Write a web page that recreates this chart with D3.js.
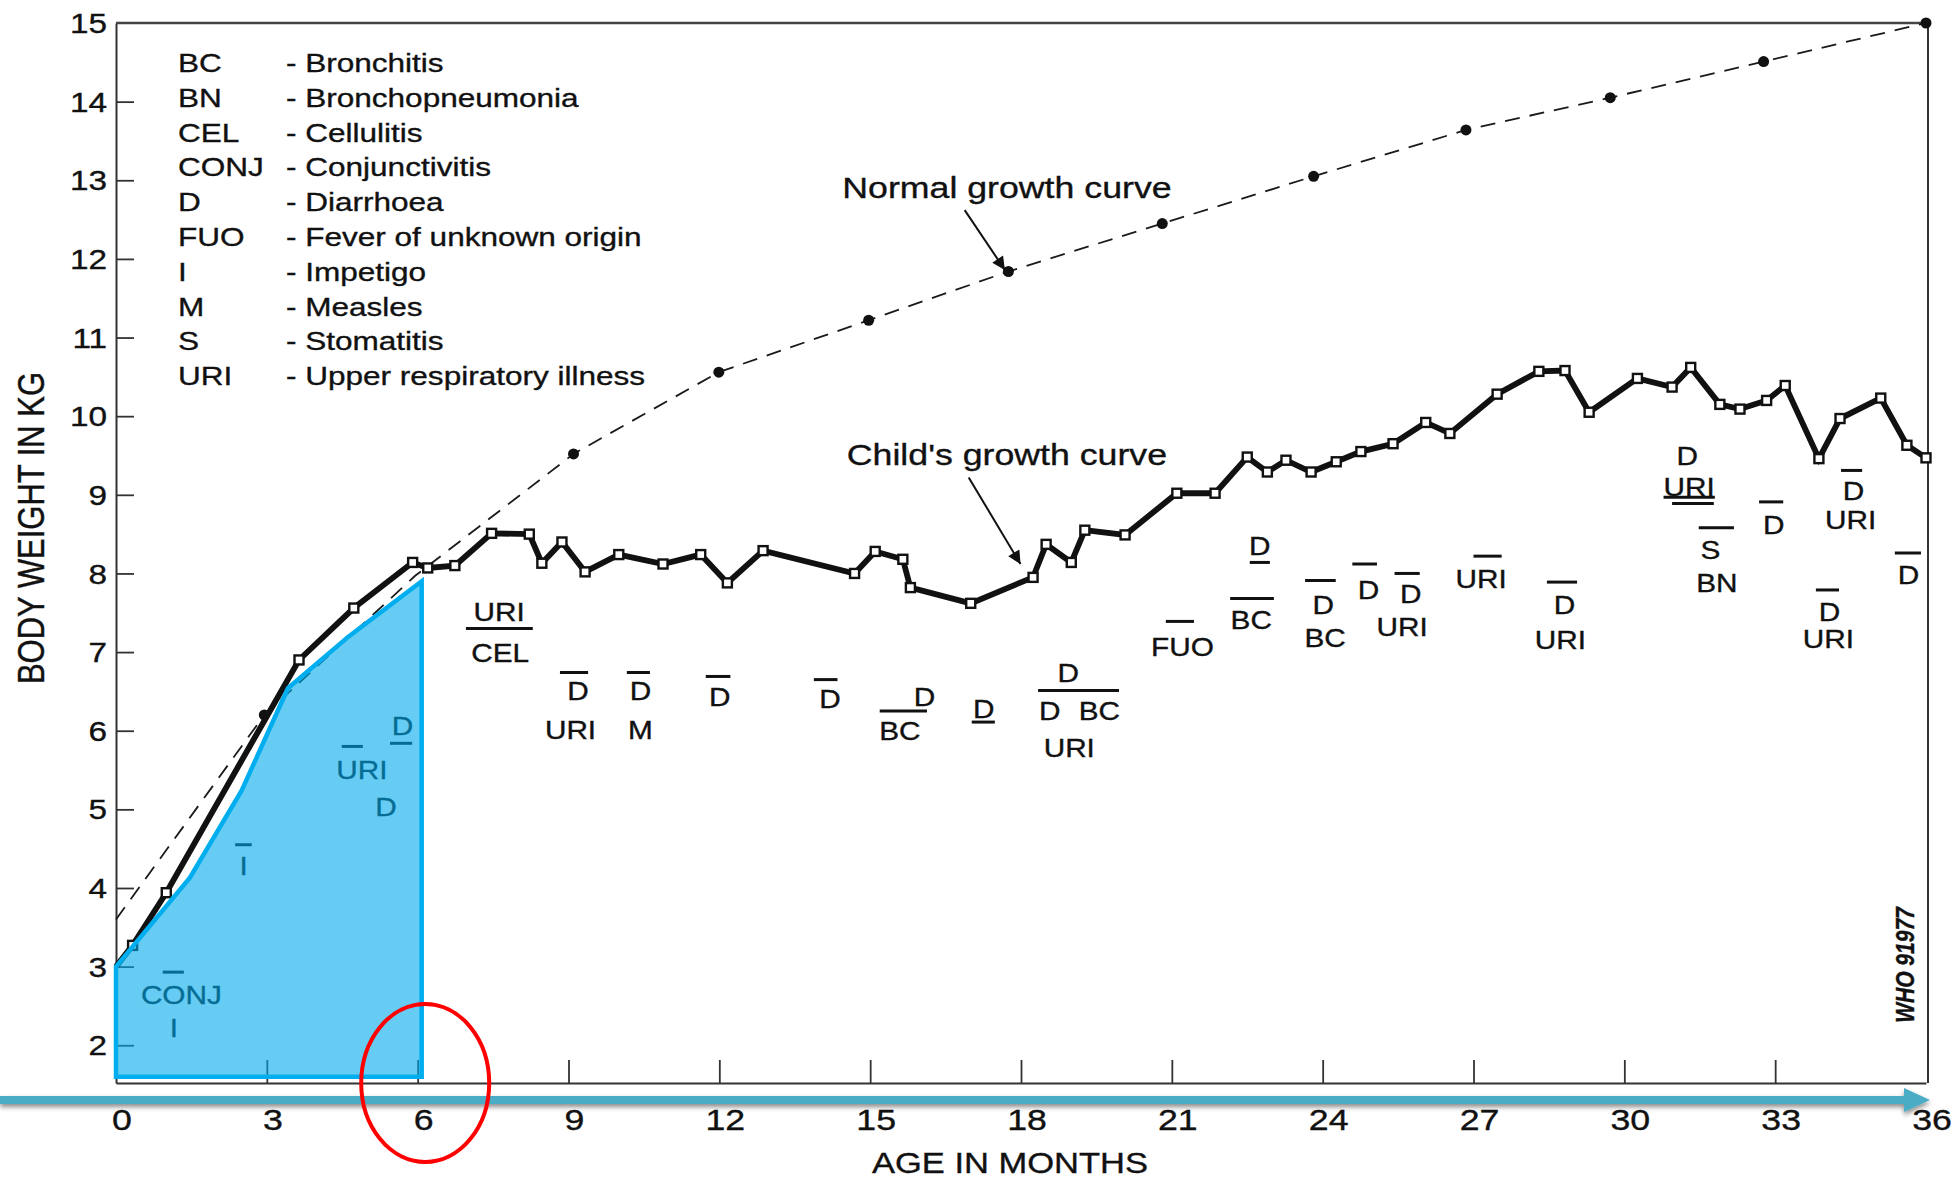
<!DOCTYPE html>
<html><head><meta charset="utf-8">
<script src="https://cdn.jsdelivr.net/npm/d3@7"></script>
<style>
body{margin:0;background:#fff;}
svg{display:block;}
text{font-family:"Liberation Sans",Arial,Helvetica,sans-serif;fill:#111;stroke:#111;stroke-width:0.35px;}
</style>
</head><body>
<svg id="chart" width="1959" height="1179"></svg>
<script>
// ---------------- DATA ----------------
const childAges = [0,0.33,1.0,3.64,4.73,5.9,6.2,6.74,7.47,8.22,8.47,8.87,9.33,10.0,10.88,11.63,12.16,12.87,14.69,15.1,15.65,15.8,17.0,18.24,18.5,19.0,19.27,20.07,21.1,21.86,22.5,22.9,23.27,23.77,24.27,24.76,25.4,26.05,26.53,27.47,28.3,28.82,29.3,30.26,30.95,31.32,31.9,32.3,32.83,33.2,33.87,34.29,35.1,35.62,36.0];
const childWeights = [3.0,3.27,3.94,6.9,7.56,8.14,8.07,8.1,8.51,8.5,8.13,8.4,8.02,8.24,8.12,8.24,7.88,8.29,8.0,8.28,8.18,7.82,7.62,7.95,8.37,8.14,8.55,8.49,9.02,9.02,9.48,9.29,9.44,9.29,9.42,9.55,9.65,9.92,9.78,10.28,10.57,10.58,10.05,10.48,10.37,10.62,10.15,10.09,10.2,10.39,9.46,9.97,10.23,9.63,9.47];

// normal curve, ages as placed on the drawing (quarterly points)
const normalAges = [0,2.95,5.95,9.1,11.99,14.97,17.75,20.81,23.82,26.85,29.72,32.77,36];
const normalWeights = [3.6,6.2,7.97,9.52,10.56,11.22,11.84,12.45,13.05,13.64,14.05,14.51,15.0];
const normalDotShown = [false,true,false,true,true,true,true,true,true,true,true,true,true];

const xTickValues = [3,6,9,12,15,18,21,24,27,30,33];
const xTickLabels = [0,3,6,9,12,15,18,21,24,27,30,33,36];
const yTickValues = [2,3,4,5,6,7,8,9,10,11,12,13,14];
const yTickLabels = [2,3,4,5,6,7,8,9,10,11,12,13,14,15];

const legendCodes = ["BC","BN","CEL","CONJ","D","FUO","I","M","S","URI"];
const legendNames = ["Bronchitis","Bronchopneumonia","Cellulitis","Conjunctivitis","Diarrhoea","Fever of unknown origin","Impetigo","Measles","Stomatitis","Upper respiratory illness"];

// illness episode labels: text, age (months), weight level (kg) of baseline
const illnessLabels  = ["CONJ","I","I","URI","D","D","URI","CEL","D","URI","D","M","D","D","D","BC","D","D","D","BC","URI","FUO","D","BC","D","BC","D","D","URI","URI","D","URI","D","URI","S","BN","D","D","URI","D","URI","D"];
const illnessAges    = [1.30,1.15,2.54,4.89,5.70,5.37,7.62,7.64,9.19,9.04,10.43,10.43,12.01,14.2,16.08,15.59,17.26,18.94,18.57,19.56,18.96,21.21,22.75,22.58,24.01,24.05,24.91,25.75,25.58,27.15,28.81,28.73,31.25,31.29,31.71,31.84,32.97,34.56,34.5,34.08,34.06,35.65];
const illnessWeights = [2.53,2.10,4.16,5.39,5.95,4.92,7.40,6.87,6.39,5.90,6.39,5.90,6.32,6.29,6.32,5.88,6.16,6.62,6.13,6.13,5.66,6.95,8.23,7.29,7.49,7.06,7.68,7.62,7.21,7.81,7.49,7.04,9.38,8.99,8.19,7.76,8.50,8.93,8.56,7.40,7.05,7.86];

// duration bars (over/under lines)
const barStarts  = [0.93,2.37,4.49,5.45,6.96,8.83,10.16,11.73,13.88,15.19,17.02,18.34,20.88,22.55,22.16,23.65,24.59,25.43,27.0,28.46,30.78,30.95,31.48,32.68,34.31,33.81,35.38];
const barEnds    = [1.35,2.70,4.91,5.89,8.29,9.39,10.62,12.22,14.35,16.13,17.48,19.95,21.44,22.95,23.03,24.26,25.08,25.93,27.56,29.06,31.80,31.78,32.18,33.16,34.73,34.27,35.9];
const barWeights = [2.93,4.55,5.80,5.84,7.30,6.74,6.74,6.69,6.65,6.25,6.11,6.51,7.39,8.14,7.68,7.91,8.12,8.00,8.22,7.89,8.97,8.89,8.58,8.91,9.31,7.79,8.26];

// highlighted first-six-months region
const highlightAges    = [0,1.47,2.5,3.42,4.61,6.08,6.08,0];
const highlightWeights = [3.0,4.13,5.24,6.54,7.19,7.9,1.6,1.6];
const circleAge = 6.15, circleWeight = 1.52;

// curve captions: text, text position, arrow from/to
const captionTexts = ["Normal growth curve","Child's growth curve"];
const captionAges = [17.72,17.72];
const captionWeights = [12.77,9.38];
const arrowFromAges = [16.88,16.96], arrowFromWeights = [12.62,9.22];
const arrowToAges = [17.68,17.99], arrowToWeights = [11.86,8.12];

// ---------------- CHART ----------------
const S = 1.19; // horizontal stretch of the reference lettering
const svg = d3.select("#chart");
const x = d3.scaleLinear().domain([0,36]).range([116,1926]);
const y = d3.scaleLinear().domain([1.52,15]).range([1083,23]);

const defs = svg.append("defs");
defs.append("marker").attr("id","ah").attr("viewBox","0 0 10 10").attr("refX",10).attr("refY",5)
  .attr("markerUnits","userSpaceOnUse").attr("orient","auto")
  .attr("markerWidth",20).attr("markerHeight",13)
  .append("path").attr("d","M0,0 L10,5 L0,10 Z").attr("fill","#111");
const f = defs.append("filter").attr("id","shadow").attr("x","-5%").attr("y","-200%").attr("width","110%").attr("height","500%");
f.append("feDropShadow").attr("dx",0).attr("dy",3).attr("stdDeviation",2.5).attr("flood-color","#000").attr("flood-opacity",0.45);

function stext(g, str, px, py, size, anchor, extra){
  return g.append("text").text(str)
    .attr("transform",`translate(${px},${py}) scale(${S},1)` + (extra||""))
    .attr("font-size",size).attr("text-anchor",anchor||"start");
}

// frame + axes
const xAxis = d3.axisBottom(x).tickValues(xTickValues).tickSize(-23).tickSizeOuter(0).tickFormat("");
const gx = svg.append("g").attr("transform",`translate(0,${y(1.52)})`).call(xAxis);
const yAxis = d3.axisLeft(y).tickValues(yTickValues).tickSize(-18).tickSizeOuter(0).tickFormat("");
const gy = svg.append("g").attr("transform",`translate(${x(0)},0)`).call(yAxis);
[gx,gy].forEach(g=>{g.selectAll("path").attr("stroke","#333").attr("stroke-width",2);
  g.selectAll("line").attr("stroke","#333").attr("stroke-width",1.8);});
svg.append("line").attr("x1",x(0)).attr("x2",x(36)+2).attr("y1",y(15)).attr("y2",y(15)).attr("stroke","#444").attr("stroke-width",2.5);
svg.append("line").attr("x1",x(36)+2).attr("x2",x(36)+2).attr("y1",y(15)).attr("y2",y(1.52)).attr("stroke","#333").attr("stroke-width",2);

// normal growth curve
const normal = normalAges.map((a,i)=>({a,w:normalWeights[i],show:normalDotShown[i]}));
svg.append("path").datum(normal)
  .attr("d",d3.line().x(d=>x(d.a)).y(d=>y(d.w)))
  .attr("fill","none").attr("stroke","#1a1a1a").attr("stroke-width",1.8).attr("stroke-dasharray","15,10");
svg.selectAll("circle.nd").data(normal.filter(d=>d.show)).join("circle").attr("class","nd")
  .attr("cx",d=>x(d.a)).attr("cy",d=>y(d.w)).attr("r",5.5).attr("fill","#111");

// child's growth curve
const child = childAges.map((a,i)=>({a,w:childWeights[i]}));
svg.append("path").datum(child)
  .attr("d",d3.line().x(d=>x(d.a)).y(d=>y(d.w)))
  .attr("fill","none").attr("stroke","#111").attr("stroke-width",5.8)
  .attr("stroke-linejoin","miter").attr("stroke-miterlimit",3);
svg.selectAll("rect.cm").data(child.slice(1)).join("rect").attr("class","cm")
  .attr("x",d=>x(d.a)-4.5).attr("y",d=>y(d.w)-4.5).attr("width",9).attr("height",9)
  .attr("fill","#fff").attr("stroke","#111").attr("stroke-width",2.4);

// illness labels and bars
const ga = svg.append("g");
illnessLabels.forEach((t,i)=>stext(ga,t,x(illnessAges[i]),y(illnessWeights[i]),25,"middle"));
ga.selectAll("line.bar").data(barStarts).join("line").attr("class","bar")
  .attr("x1",d=>x(d)).attr("x2",(d,i)=>x(barEnds[i]))
  .attr("y1",(d,i)=>y(barWeights[i])).attr("y2",(d,i)=>y(barWeights[i]))
  .attr("stroke","#111").attr("stroke-width",3);

// legend
const gl = svg.append("g");
legendCodes.forEach((c,i)=>{
  const by = 72 + i*34.8;
  stext(gl,c,178,by,26.5,"start");
  stext(gl,"- "+legendNames[i],286,by,26.5,"start");
});

// captions with arrows
captionTexts.forEach((t,i)=>{
  stext(svg,t,x(captionAges[i]),y(captionWeights[i]),30,"middle");
  svg.append("line").attr("x1",x(arrowFromAges[i])).attr("y1",y(arrowFromWeights[i]))
    .attr("x2",x(arrowToAges[i])).attr("y2",y(arrowToWeights[i]))
    .attr("stroke","#111").attr("stroke-width",2).attr("marker-end","url(#ah)");
});

// highlight polygon (first six months)
const hl = highlightAges.map((a,i)=>[x(a),y(highlightWeights[i])]);
svg.append("polygon").attr("points",hl.map(p=>p.join(",")).join(" "))
  .attr("fill","rgb(0,170,235)").attr("fill-opacity",0.6)
  .attr("stroke","#00aeef").attr("stroke-width",4.5).attr("stroke-linejoin","miter");

// tick labels
const gt = svg.append("g");
xTickLabels.forEach(v=>stext(gt,String(v),x(v)+6,1130,30,"middle"));
yTickLabels.forEach(v=>stext(gt,String(v),107,y(v),28,"end").attr("dy","0.36em"));

// axis titles
stext(svg,"AGE IN MONTHS",1010,1173,29,"middle");
stext(svg,"BODY WEIGHT IN KG",31,528,31,"middle"," rotate(-90)").attr("dy","0.36em");
stext(svg,"WHO 91977",1905,965,21,"middle"," rotate(-90)").attr("dy","0.36em")
  .attr("font-style","italic").attr("font-weight","bold");

// teal time arrow
const ga2 = svg.append("g").attr("filter","url(#shadow)");
ga2.append("line").attr("x1",0).attr("x2",x(36)-18).attr("y1",1100).attr("y2",1100)
  .attr("stroke","#4bacc6").attr("stroke-width",8);
ga2.append("polygon").attr("points",`${x(36)-22},1088 ${x(36)+4},1100 ${x(36)-22},1112`).attr("fill","#4bacc6");

// red ellipse around 6 months
svg.append("ellipse").attr("cx",x(circleAge)).attr("cy",y(circleWeight)).attr("rx",64).attr("ry",79)
  .attr("fill","none").attr("stroke","#ff0000").attr("stroke-width",4);
</script>
</body></html>
